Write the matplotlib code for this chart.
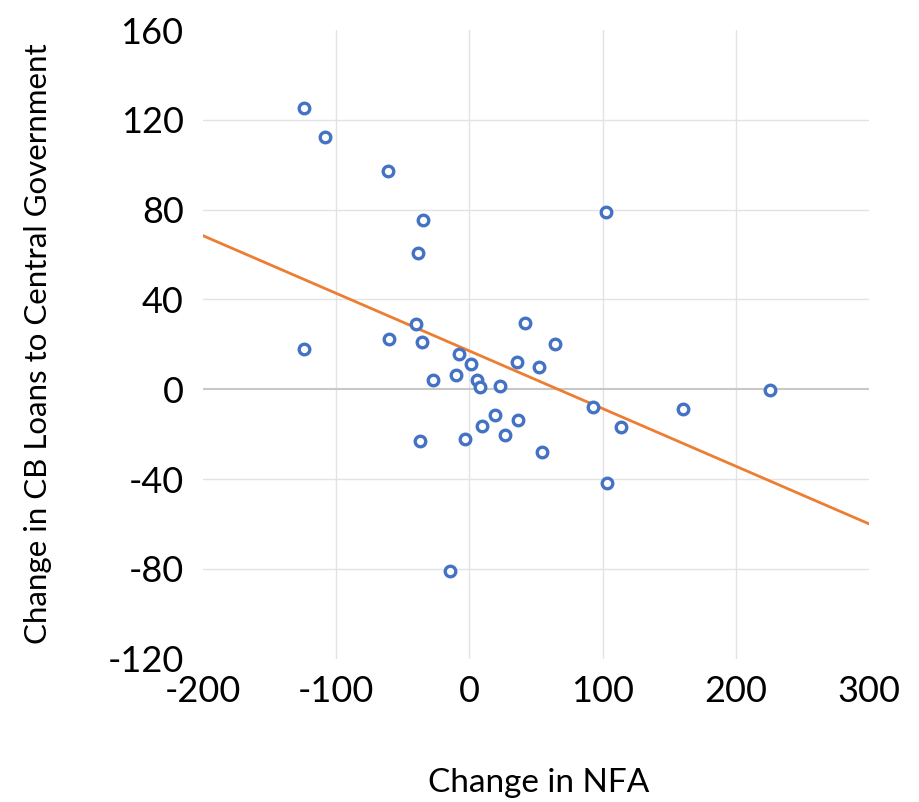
import numpy as np
import matplotlib.pyplot as plt

# change in NFA vs change in CB loans to central government
nfa = [-124.4, -108.4, -61.3, -34.8, -38.3, -124.6, -40.3, -60.7, -35.8, -7.8,
       1.1, -27.7, -10.1, 5.8, 7.6, 22.7, 41.9, 35.6, 64.6, 52.5,
       19.4, 36.1, 9.6, 27.0, -3.0, -37.3, 54.2, 92.8, 113.8, 160.1,
       226.0, 103.4, 102.7, -14.8]
cb_loans = [125.4, 112.2, 97.4, 75.5, 60.6, 18.1, 29.2, 22.5, 21.1, 15.9,
            11.3, 4.3, 6.2, 4.0, 1.0, 1.5, 29.7, 12.2, 20.0, 10.1,
            -11.6, -13.5, -16.5, -20.4, -22.0, -23.2, -28.1, -8.0, -16.8, -8.8,
            -0.2, -41.9, 78.9, -80.9]

xticks = [-200, -100, 0, 100, 200, 300]
yticks = [-120, -80, -40, 0, 40, 80, 120, 160]

plt.rcParams['font.family'] = ['Lato', 'DejaVu Sans']
plt.rcParams['axes.unicode_minus'] = False

fig = plt.figure(figsize=(9.19, 8.02), dpi=100)
ax = fig.add_axes([0.221, 0.1787, 0.7246, 0.7838])

# light gridlines on interior ticks only
for t in xticks[1:-1]:
    ax.axvline(t, color='#E3E3E3', lw=1.0, zorder=0)
for t in yticks[1:-1]:
    if t != 0:
        ax.axhline(t, color='#E3E3E3', lw=1.0, zorder=0)
ax.axhline(0, color='#C8C8C8', lw=1.5, zorder=0)

x = np.array(nfa)
y = np.array(cb_loans)
slope, icpt = np.polyfit(x, y, 1)
xl = np.array([xticks[0], xticks[-1]])
ax.plot(xl, slope * xl + icpt, color='#ED7D31', lw=2.0, zorder=1)

ax.plot(x, y, 'o', mfc='white', mec='#4472C4', ms=7.6, mew=2.4, zorder=2)

ax.set_xlim(xticks[0], xticks[-1])
ax.set_ylim(yticks[0], yticks[-1])
ax.set_xticks(xticks)
ax.set_yticks(yticks)
ax.tick_params(length=0, labelsize=26)
ax.tick_params(axis='y', pad=14)
ax.tick_params(axis='x', pad=12)
for s in ax.spines.values():
    s.set_visible(False)

fig.text(0.586, 0.024, 'Change in NFA', ha='center', va='center', fontsize=24)
fig.text(0.041, 0.572, 'Change in CB Loans to Central Government', ha='center',
         va='center', rotation=90, fontsize=22.5)

fig.savefig('out.png', dpi=100)
